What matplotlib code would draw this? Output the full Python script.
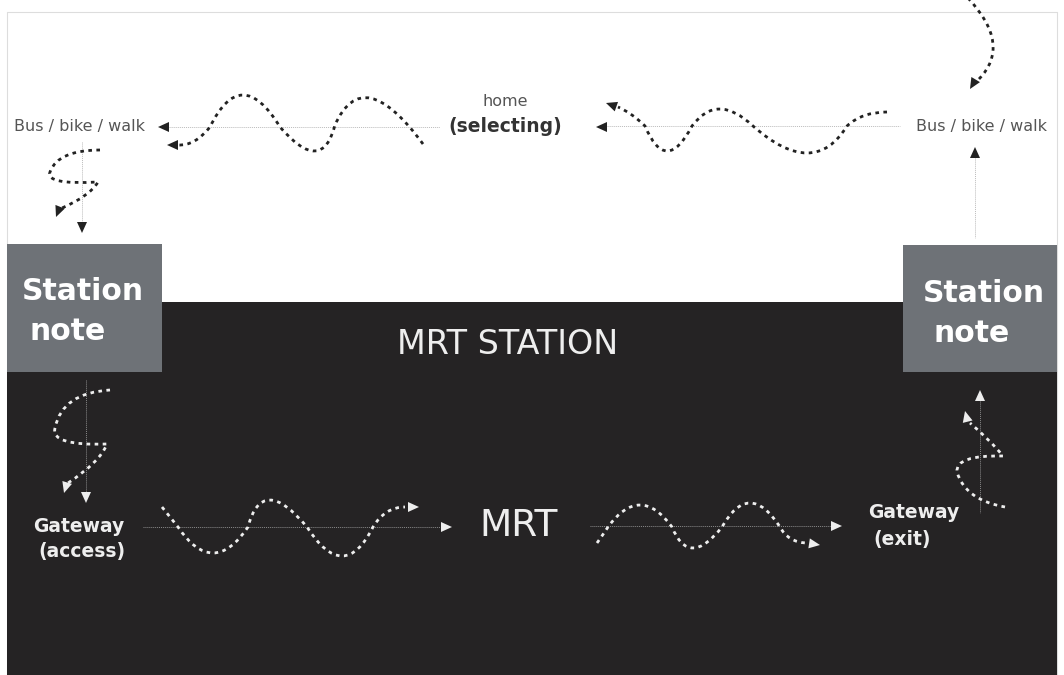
import matplotlib.pyplot as plt
from matplotlib.path import Path
from matplotlib.patches import PathPatch, Polygon, Rectangle
import numpy as np

# canvas in pixel units of the reference (y grows downward)
W, H = 1064, 675

DARK = "#252324"
BOX = "#6e7277"
INK = "#222222"
SNOW = "#eeeeee"

# wavy dotted routes: start point followed by (control, end) pairs (quadratic curves)
wave_top_left = [(423, 144), (363, 62), (335, 125), (322, 176), (280, 127),
                 (241, 63), (210, 127), (195, 146), (178, 145)]
wave_top_right = [(887, 112), (862, 112), (847, 126), (814, 180), (753, 126),
                  (717, 92), (692, 126), (666, 176), (645, 126), (632, 113), (618, 107)]
wave_top_corner = [(968, -2), (1012, 45), (979, 79)]
wave_left_white = [(100, 150), (58, 150), (50, 172), (45, 185), (98, 182),
                   (90, 196), (62, 208)]
wave_left_dark = [(110, 390), (62, 393), (55, 428), (50, 446), (107, 444),
                  (100, 462), (68, 483)]
wave_mid_left = [(162, 507), (170, 517), (178, 527), (213, 579), (248, 527),
                 (262, 473), (307, 527), (344, 585), (373, 527), (385, 507), (405, 507)]
wave_mid_right = [(597, 543), (602, 536), (608, 527), (640, 483), (672, 527),
                  (689, 569), (722, 527), (749, 479), (780, 527), (788, 542), (806, 543)]
wave_right_dark = [(1005, 507), (965, 500), (957, 472), (955, 455), (1003, 456),
                   (990, 440), (970, 423)]

# arrow heads: tip and pointing direction
heads_black = [((167, 145), (-1, 0)), ((606, 103), (-1, -0.35)), ((970, 89), (-0.6, 1)),
               ((56, 217), (-0.4, 1)), ((158, 127), (-1, 0)), ((596, 127), (-1, 0)),
               ((82, 233), (0, 1)), ((975, 147), (0, -1))]
heads_white = [((64, 493), (-0.3, 1)), ((86, 503), (0, 1)), ((419, 507), (1, 0)),
               ((452, 527), (1, 0)), ((820, 545), (1, 0.15)), ((842, 526), (1, 0)),
               ((965, 411), (-0.25, -1)), ((980, 390), (0, -1))]

# thin guide lines (x0, y0, x1, y1)
guides_light = [(168, 127, 440, 127), (606, 126, 900, 126), (82, 142, 82, 222),
                (975, 158, 975, 238)]
guides_dark = [(86, 380, 86, 492), (143, 527, 441, 527), (590, 526, 832, 526),
               (980, 400, 980, 513)]

labels_grey = [("Bus / bike / walk", 80, 127), ("Bus / bike / walk", 982, 126),
               ("home", 505, 101)]


def wave(ax, pts, color):
    codes = [Path.MOVETO] + [Path.CURVE3] * (len(pts) - 1)
    ax.add_patch(PathPatch(Path(pts, codes), fill=False, ec=color, lw=2.0,
                           linestyle=(0, (1.3, 1.6)), capstyle="butt", zorder=4))


def head(ax, tip, d, color, L=11, hw=5):
    u = np.array(d, float)
    u /= np.hypot(*u)
    n = np.array([-u[1], u[0]])
    t = np.array(tip, float)
    b = t - L * u
    ax.add_patch(Polygon([t, b + hw * n, b - hw * n], closed=True, fc=color, ec="none", zorder=5))


fig = plt.figure(figsize=(W / 100, H / 100), dpi=100)
ax = fig.add_axes([0, 0, 1, 1])
ax.set_xlim(0, W)
ax.set_ylim(H, 0)
ax.axis("off")

# frame
ax.plot([7, 7, 1057, 1057], [H, 12, 12, H], color="#dddddd", lw=0.8, zorder=1)

# station band and the two note boxes
ax.add_patch(Rectangle((7, 302), 1050, H - 302, fc=DARK, ec="none", zorder=2))
ax.add_patch(Rectangle((7, 244), 155, 128, fc=BOX, ec="none", zorder=3))
ax.add_patch(Rectangle((903, 245), 154, 127, fc=BOX, ec="none", zorder=3))

for x0, y0, x1, y1 in guides_light:
    ax.plot([x0, x1], [y0, y1], color="#bbbbbb", lw=0.7, ls=(0, (1, 1)), zorder=3)
for x0, y0, x1, y1 in guides_dark:
    ax.plot([x0, x1], [y0, y1], color="#8a8a8a", lw=0.7, ls=(0, (1, 1)), zorder=3)

for w in [wave_top_left, wave_top_right, wave_top_corner, wave_left_white]:
    wave(ax, w, INK)
for w in [wave_left_dark, wave_mid_left, wave_mid_right, wave_right_dark]:
    wave(ax, w, SNOW)

for tip, d in heads_black:
    head(ax, tip, d, INK)
for tip, d in heads_white:
    head(ax, tip, d, SNOW)

for s, x, y in labels_grey:
    ax.text(x, y, s, ha="center", va="center", fontsize=11.5, color="#555555", zorder=6)
ax.text(505, 127, "(selecting)", ha="center", va="center", fontsize=13.5,
        fontweight="bold", color="#333333", zorder=6)

ax.text(22, 292, "Station", ha="left", va="center", fontsize=21.5, fontweight="bold", color="white", zorder=6)
ax.text(30, 331, "note", ha="left", va="center", fontsize=21.5, fontweight="bold", color="white", zorder=6)
ax.text(923, 294, "Station", ha="left", va="center", fontsize=21.5, fontweight="bold", color="white", zorder=6)
ax.text(933, 334, "note", ha="left", va="center", fontsize=21.5, fontweight="bold", color="white", zorder=6)

ax.text(508, 345, "MRT STATION", ha="center", va="center", fontsize=24, color=SNOW, zorder=6)
ax.text(519, 526, "MRT", ha="center", va="center", fontsize=27, color=SNOW, zorder=6)

ax.text(33, 527, "Gateway", ha="left", va="center", fontsize=13.5, fontweight="bold", color=SNOW, zorder=6)
ax.text(38, 552, "(access)", ha="left", va="center", fontsize=13.5, fontweight="bold", color=SNOW, zorder=6)
ax.text(868, 513, "Gateway", ha="left", va="center", fontsize=13.5, fontweight="bold", color=SNOW, zorder=6)
ax.text(873, 539, "(exit)", ha="left", va="center", fontsize=13.5, fontweight="bold", color=SNOW, zorder=6)

fig.savefig("out.png", dpi=100, facecolor="white")
